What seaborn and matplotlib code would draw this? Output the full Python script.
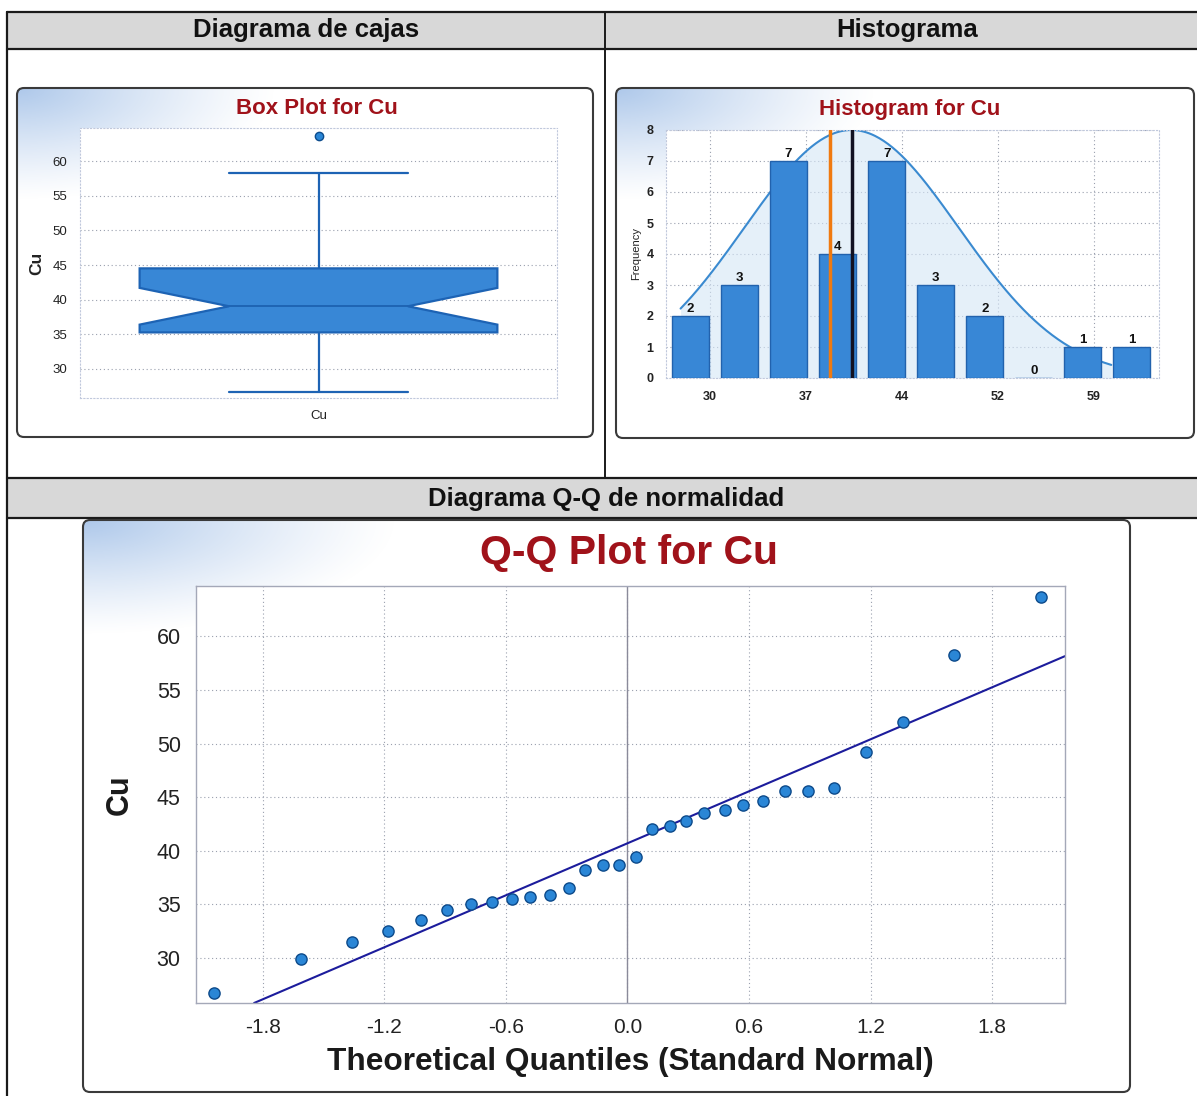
import numpy as np
import pandas as pd
import matplotlib
matplotlib.use("Agg")
import matplotlib.pyplot as plt
import seaborn as sns
from matplotlib.patches import FancyBboxPatch, Rectangle

# ---------------- data ----------------
variable = "Cu"
cu_values = [26.7, 29.9, 31.5, 32.5, 33.5, 34.5, 35.0, 35.2, 35.5, 35.65,
             35.9, 36.5, 38.2, 38.7, 38.7, 39.4, 42.0, 42.3, 42.8, 43.5,
             43.8, 44.3, 44.6, 45.6, 45.6, 45.9, 49.2, 52.0, 58.3, 63.7]
theoretical_q = [-2.04, -1.61, -1.36, -1.18, -1.02, -0.89, -0.77, -0.67, -0.57, -0.48,
                 -0.38, -0.29, -0.21, -0.12, -0.04, 0.04, 0.12, 0.21, 0.29, 0.38,
                 0.48, 0.57, 0.67, 0.78, 0.89, 1.02, 1.18, 1.36, 1.61, 2.04]
hist_tick_labels = ["30", "37", "44", "52", "59"]
value_ticks = [30, 35, 40, 45, 50, 55, 60]
freq_ticks = [0, 1, 2, 3, 4, 5, 6, 7, 8]
qq_ticks = [-1.8, -1.2, -0.6, 0.0, 0.6, 1.2, 1.8]
n_bins = 10

headers = ["Diagrama de cajas", "Histograma", "Diagrama Q-Q de normalidad"]
titles = ["Box Plot for Cu", "Histogram for Cu", "Q-Q Plot for Cu"]
qq_xlabel = "Theoretical Quantiles (Standard Normal)"
freq_label = "Frequency"

df = pd.DataFrame({variable: cu_values})
qq_df = pd.DataFrame({"q": theoretical_q, variable: sorted(cu_values)})
mean_v = float(np.mean(cu_values))
median_v = float(np.median(cu_values))
sd_v = float(np.std(cu_values, ddof=1))

# ---------------- style ----------------
sns.set_style("white")
plt.rcParams["font.family"] = ["Liberation Sans", "DejaVu Sans"]
plt.rcParams["axes.unicode_minus"] = False

W, H = 1197, 1096
fig = plt.figure(figsize=(W / 100, H / 100), dpi=100)
fig.patch.set_facecolor("white")

bg = fig.add_axes([0, 0, 1, 1], zorder=0)
bg.axis("off")

title_color = "#a0121a"
blue_fill = "#3887d6"
blue_edge = "#1d63b4"
grid_kw = dict(color="#9aa0ae", linestyle=(0, (1, 2.5)), linewidth=0.8)


def px_axes(l, t, r, b):
    return fig.add_axes([l / W, 1 - b / H, (r - l) / W, (b - t) / H], zorder=2)


# header bands and table lines
for (y0, y1) in [(12, 49), (478, 518)]:
    bg.add_patch(Rectangle((7, y0), W - 7, y1 - y0, facecolor="#d8d8d8",
                           edgecolor="none", zorder=0.5))
for y in [12, 49, 478, 518]:
    bg.plot([7, W], [y, y], color="#1a1a1a", lw=1.6, zorder=1)
bg.plot([7, 7], [12, H], color="#1a1a1a", lw=1.6, zorder=1)
bg.plot([605, 605], [12, 478], color="#1a1a1a", lw=1.4, zorder=1)

bg.text(306, 30, headers[0], ha="center", va="center", fontsize=18.5,
        fontweight="bold", color="#111111")
bg.text(907, 30, headers[1], ha="center", va="center", fontsize=18.5,
        fontweight="bold", color="#111111")
bg.text(606, 499, headers[2], ha="center", va="center", fontsize=18.5,
        fontweight="bold", color="#111111")


def panel(x0, y0, x1, y1, gx=0.45, gy=0.32):
    patch = FancyBboxPatch((x0, y0), x1 - x0, y1 - y0,
                           boxstyle="round,pad=0,rounding_size=7",
                           facecolor="white", edgecolor="none", zorder=1)
    bg.add_patch(patch)
    h = int(y1 - y0)
    w = int(x1 - x0)
    yy, xx = np.mgrid[0:h, 0:w]
    d = np.sqrt((xx / (gx * w)) ** 2 + (yy / (gy * h)) ** 2)
    a = np.clip(1 - d, 0, 1) ** 1.2 * 0.8
    rgba = np.zeros((h, w, 4))
    rgba[..., 0] = 0.60
    rgba[..., 1] = 0.73
    rgba[..., 2] = 0.90
    rgba[..., 3] = a
    im = bg.imshow(rgba, extent=[x0, x1, y1, y0], origin="upper",
                   aspect="auto", zorder=1.2, interpolation="bilinear")
    im.set_clip_path(patch)
    border = FancyBboxPatch((x0, y0), x1 - x0, y1 - y0,
                            boxstyle="round,pad=0,rounding_size=7",
                            facecolor="none", edgecolor="#3a3a3a", lw=1.5, zorder=1.5)
    bg.add_patch(border)


panel(17, 88, 593, 437)
panel(616, 88, 1194, 438)
panel(83, 520, 1130, 1092, gx=0.30, gy=0.20)

bg.set_xlim(0, W)
bg.set_ylim(H, 0)

bg.text(317, 109, titles[0], ha="center", va="center", fontsize=16,
        fontweight="bold", color=title_color, zorder=3)
bg.text(910, 110, titles[1], ha="center", va="center", fontsize=16,
        fontweight="bold", color=title_color, zorder=3)
bg.text(629, 553, titles[2], ha="center", va="center", fontsize=29.5,
        fontweight="bold", color=title_color, zorder=3)

# ---------------- Box plot ----------------
ax1 = px_axes(80, 128, 557, 398)
ax1.set_facecolor("white")
sns.boxplot(data=df, y=variable, ax=ax1, notch=True, width=0.75,
            color=blue_fill, saturation=1, linecolor=blue_edge, linewidth=1.6,
            whis=1.5,
            flierprops=dict(marker="o", markersize=6,
                            markerfacecolor="#2a86d6", markeredgecolor="#0d4c8c"),
            medianprops=dict(color="#1b5fae", linewidth=1.2))
ax1.set_xlim(-0.5, 0.5)
ax1.set_ylim(25.8, 64.8)
ax1.set_yticks(value_ticks)
ax1.set_yticklabels([str(v) for v in value_ticks], fontsize=9.5, color="#222222")
ax1.set_xticks([0])
ax1.set_xticklabels([variable], fontsize=9.5, color="#222222")
ax1.set_xlabel("")
ax1.set_ylabel(variable, fontsize=12.5, fontweight="bold", color="#222222")
ax1.yaxis.set_label_coords(-0.075, 0.5)
ax1.tick_params(axis="both", length=0, pad=9)
ax1.yaxis.grid(True, **grid_kw)
ax1.set_axisbelow(True)
for s in ax1.spines.values():
    s.set_color("#c0c8dc")
    s.set_linestyle((0, (1, 2)))
    s.set_linewidth(0.8)

# ---------------- Histogram ----------------
ax2 = px_axes(666, 130, 1159, 378)
ax2.set_facecolor("white")
curve_x = np.linspace(27.8, 60.3, 300)
ymax = freq_ticks[-1]
curve_y = ymax * np.exp(-0.5 * ((curve_x - mean_v) / sd_v) ** 2)
ax2.fill_between(curve_x, 0, curve_y, color="#d4e6f6", alpha=0.6, zorder=1, lw=0)
ax2.plot(curve_x, curve_y, color="#3a8ad0", lw=1.5, zorder=2)
sns.histplot(data=df, x=variable, bins=n_bins, shrink=0.76, ax=ax2,
             color=blue_fill, alpha=1, edgecolor="#2262ad", linewidth=1.0, zorder=3)
ax2.bar_label(ax2.containers[0], fmt="%d", padding=1, fontsize=9.5,
              fontweight="bold", color="#111111")
ax2.axvline(median_v, color="#f07a10", lw=2.5, zorder=4)
ax2.axvline(mean_v, color="#111122", lw=2.5, zorder=4)
ax2.set_xlim(26.7, 63.9)
ax2.set_ylim(0, ymax)
ax2.set_yticks(freq_ticks)
ax2.set_yticklabels([str(v) for v in freq_ticks], fontsize=9, fontweight="bold",
                    color="#222222")
hist_tick_pos = np.linspace(float(hist_tick_labels[0]), float(hist_tick_labels[-1]),
                            len(hist_tick_labels))
ax2.set_xticks(hist_tick_pos)
ax2.set_xticklabels(hist_tick_labels, fontsize=9, fontweight="bold", color="#222222")
ax2.set_xlabel("")
ax2.set_ylabel(freq_label, fontsize=8, color="#222222")
ax2.yaxis.set_label_coords(-0.05, 0.5)
ax2.tick_params(axis="both", length=0, pad=9)
ax2.grid(True, **grid_kw)
ax2.set_axisbelow(True)
for s in ax2.spines.values():
    s.set_color("#c0c8dc")
    s.set_linestyle((0, (1, 2)))
    s.set_linewidth(0.8)

# ---------------- Q-Q plot ----------------
ax3 = px_axes(196, 586, 1065, 1003)
ax3.set_facecolor("white")
ax3.axvline(0, color="#8a8a9a", lw=1.0, zorder=1)
ax3.axline((0, mean_v), slope=sd_v, color="#1c1c9c", lw=1.5, zorder=2)
sns.scatterplot(data=qq_df, x="q", y=variable, ax=ax3, s=65, color="#2a86d6",
                edgecolor="#0d4a8a", linewidth=1.0, zorder=3)
ax3.set_xlim(-2.13, 2.16)
ax3.set_ylim(25.8, 64.7)
ax3.set_xticks(qq_ticks)
ax3.set_xticklabels([f"{v:.1f}" for v in qq_ticks], fontsize=15, color="#222222")
ax3.set_yticks(value_ticks)
ax3.set_yticklabels([str(v) for v in value_ticks], fontsize=15.5, color="#222222")
ax3.set_xlabel(qq_xlabel, fontsize=22.8, fontweight="bold", color="#1a1a1a")
ax3.xaxis.set_label_coords(0.5, -0.105)
ax3.set_ylabel(variable, fontsize=22, fontweight="bold", color="#1a1a1a")
ax3.yaxis.set_label_coords(-0.07, 0.5)
ax3.tick_params(axis="both", length=5, color="#b0b0b8", width=0.8, pad=6)
ax3.grid(True, **grid_kw)
ax3.set_axisbelow(True)
for s in ax3.spines.values():
    s.set_color("#a4a8b8")
    s.set_linewidth(1.0)

fig.savefig("out.png", dpi=100)
